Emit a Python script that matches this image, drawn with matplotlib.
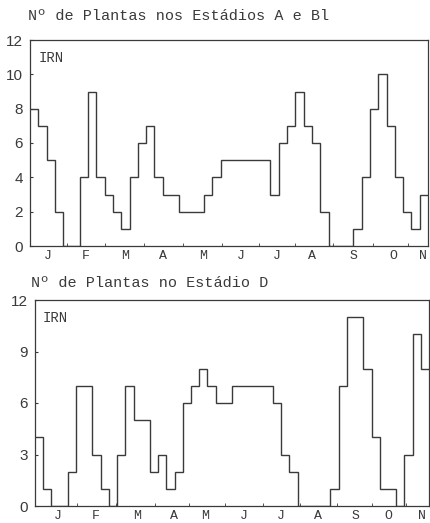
import numpy as np
import matplotlib
matplotlib.use("Agg")
import matplotlib.pyplot as plt

# weekly counts (48 weeks, Jan -> Nov)
irn_ab = [8, 7, 5, 2, 0, 0, 4, 9, 4, 3, 2, 1, 4, 6, 7, 4, 3, 3, 2, 2, 2, 3, 4, 5,
          5, 5, 5, 5, 5, 3, 6, 7, 9, 7, 6, 2, 0, 0, 0, 1, 4, 8, 10, 7, 4, 2, 1, 3]
irn_d = [4, 1, 0, 0, 2, 7, 7, 3, 1, 0, 3, 7, 5, 5, 2, 3, 1, 2, 6, 7, 8, 7, 6, 6,
         7, 7, 7, 7, 7, 6, 3, 2, 0, 0, 0, 0, 1, 7, 11, 11, 8, 4, 1, 1, 0, 3, 10, 8]
months = ["J", "F", "M", "A", "M", "J", "J", "A", "S", "O", "N"]
titles = ["Nº de Plantas nos Estádios A e Bl", "Nº de Plantas no Estádio D"]
yticks_ab = [0, 2, 4, 6, 8, 10, 12]
yticks_d = [0, 3, 6, 9, 12]

# label positions (in weeks) as they sit in the picture
mpos_ab = [2.2, 6.7, 11.5, 16.0, 20.9, 25.4, 29.8, 34.0, 39.0, 43.8, 47.4]
mpos_d = [2.8, 7.4, 12.4, 16.9, 20.7, 25.5, 30.0, 34.5, 39.0, 43.1, 47.2]

W, H = 430, 523
ink = "#3a3a3a"
mono = "Liberation Mono"

fig = plt.figure(figsize=(W / 100, H / 100), dpi=100)
fig.patch.set_facecolor("white")


def panel(rect, vals, yt, mpos, title, title_xy, irn_xy):
    ax = fig.add_axes(rect)
    edges = np.arange(len(vals) + 1)
    ax.stairs(vals, edges, baseline=None, color=ink, lw=1.0)
    ax.set_xlim(0, len(vals))
    ax.set_ylim(0, 12)
    for s in ax.spines.values():
        s.set_color(ink)
        s.set_linewidth(0.9)
    ax.set_yticks(yt)
    ax.set_yticklabels([str(v) for v in yt], family="Liberation Sans",
                       fontsize=11, color=ink)
    ax.tick_params(axis="y", direction="in", length=2, pad=5, color=ink)
    ax.set_xticks(mpos)
    ax.set_xticklabels(months, family=mono, fontsize=9.5, color=ink)
    ax.tick_params(axis="x", which="major", length=0, pad=3)
    mids = [(a + b) / 2 for a, b in zip(mpos[:-1], mpos[1:])]
    ax.set_xticks(mids, minor=True)
    ax.tick_params(axis="x", which="minor", direction="in", length=2.5,
                   color=ink)
    ax.text(irn_xy[0], irn_xy[1], "IRN", transform=ax.transAxes,
            family=mono, fontsize=10, color=ink, va="center", ha="left")
    fig.text(title_xy[0] / W, 1 - title_xy[1] / H, title, family=mono,
             fontsize=10.9, color=ink, va="center", ha="left")
    return ax


ax1 = panel([30 / W, 1 - 246 / H, 398 / W, 206 / H], irn_ab, yticks_ab,
            mpos_ab, titles[0], (28, 16), (0.022, 0.915))
ax2 = panel([35 / W, 1 - 506 / H, 394 / W, 206 / H], irn_d, yticks_d,
            mpos_d, titles[1], (31, 283), (0.02, 0.915))

fig.savefig("out.png", dpi=100)
